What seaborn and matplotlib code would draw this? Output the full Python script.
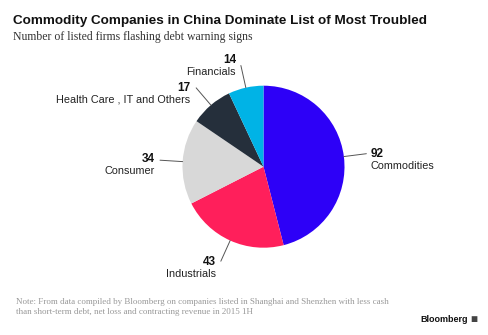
import numpy as np
import matplotlib
matplotlib.use("Agg")
import matplotlib.pyplot as plt
import seaborn as sns

# ---- data ----
categories = ["Commodities", "Industrials", "Consumer", "Health Care , IT and Others", "Financials"]
values = [92, 43, 34, 17, 14]
colors = ["#2d00f7", "#ff1f5b", "#d8d8d8", "#252f3b", "#00b3e6"]

title = "Commodity Companies in China Dominate List of Most Troubled"
subtitle = "Number of listed firms flashing debt warning signs"
note = ("Note: From data compiled by Bloomberg on companies listed in Shanghai and Shenzhen with less cash\n"
        "than short-term debt, net loss and contracting revenue in 2015 1H")

# ---- layout (label offsets in pixels from leader-line end) ----
label_dx = [4, -5, -5, -6, -5]
label_dy = [0, 1, -1, 0, -6]
label_ha = ["left", "right", "right", "right", "right"]

sns.set_theme(style="white")
plt.rcParams["font.family"] = ["Liberation Sans", "DejaVu Sans"]

W, H = 488, 335
fig = plt.figure(figsize=(W / 100, H / 100), dpi=100)
fig.patch.set_facecolor("white")

cx, cy, r = 263.5, 335 - 166.7, 81.0
ax = fig.add_axes([(cx - r) / W, (cy - r) / H, 2 * r / W, 2 * r / H])
pal = sns.color_palette(colors)
wedges, _ = ax.pie(values, colors=pal, startangle=90, counterclock=False, radius=1.0,
                   wedgeprops=dict(linewidth=0))
ax.set_xlim(-1, 1)
ax.set_ylim(-1, 1)
ax.set_aspect("equal")
ax.axis("off")

px = 1.0 / r  # one pixel in data units
for i, w in enumerate(wedges):
    ang = np.deg2rad((w.theta1 + w.theta2) / 2)
    x0, y0 = np.cos(ang), np.sin(ang)
    x1, y1 = 1.28 * x0, 1.28 * y0
    ax.plot([x0, x1], [y0, y1], color="#555555", lw=0.7, clip_on=False)
    tx = x1 + label_dx[i] * px
    ty = y1 - label_dy[i] * px
    ax.text(tx, ty, str(values[i]), ha=label_ha[i], va="center", fontsize=8.5,
            fontweight="bold", color="#111111", clip_on=False)
    ax.text(tx, ty - 12 * px, categories[i], ha=label_ha[i], va="center", fontsize=7.8,
            color="#222222", clip_on=False)

fig.text(13 / W, 1 - 21 / H, title, ha="left", va="center", fontsize=9.7,
         fontweight="bold", color="#111111")
fig.text(13 / W, 1 - 37 / H, subtitle, ha="left", va="center", fontsize=8.5,
         family=["Liberation Serif", "DejaVu Serif"], color="#333333")
fig.text(16 / W, 1 - 307 / H, note, ha="left", va="center", fontsize=6.5,
         family=["Liberation Serif", "DejaVu Serif"], color="#999999", linespacing=1.35)
fig.text(468 / W, 1 - 320 / H, "Bloomberg", ha="right", va="center", fontsize=6.5,
         fontweight="bold", color="#111111")
fig.text(470 / W, 1 - 320 / H, "\u25A0", ha="left", va="center", fontsize=8.5,
         color="#444444")

fig.savefig("out.png", dpi=100)
